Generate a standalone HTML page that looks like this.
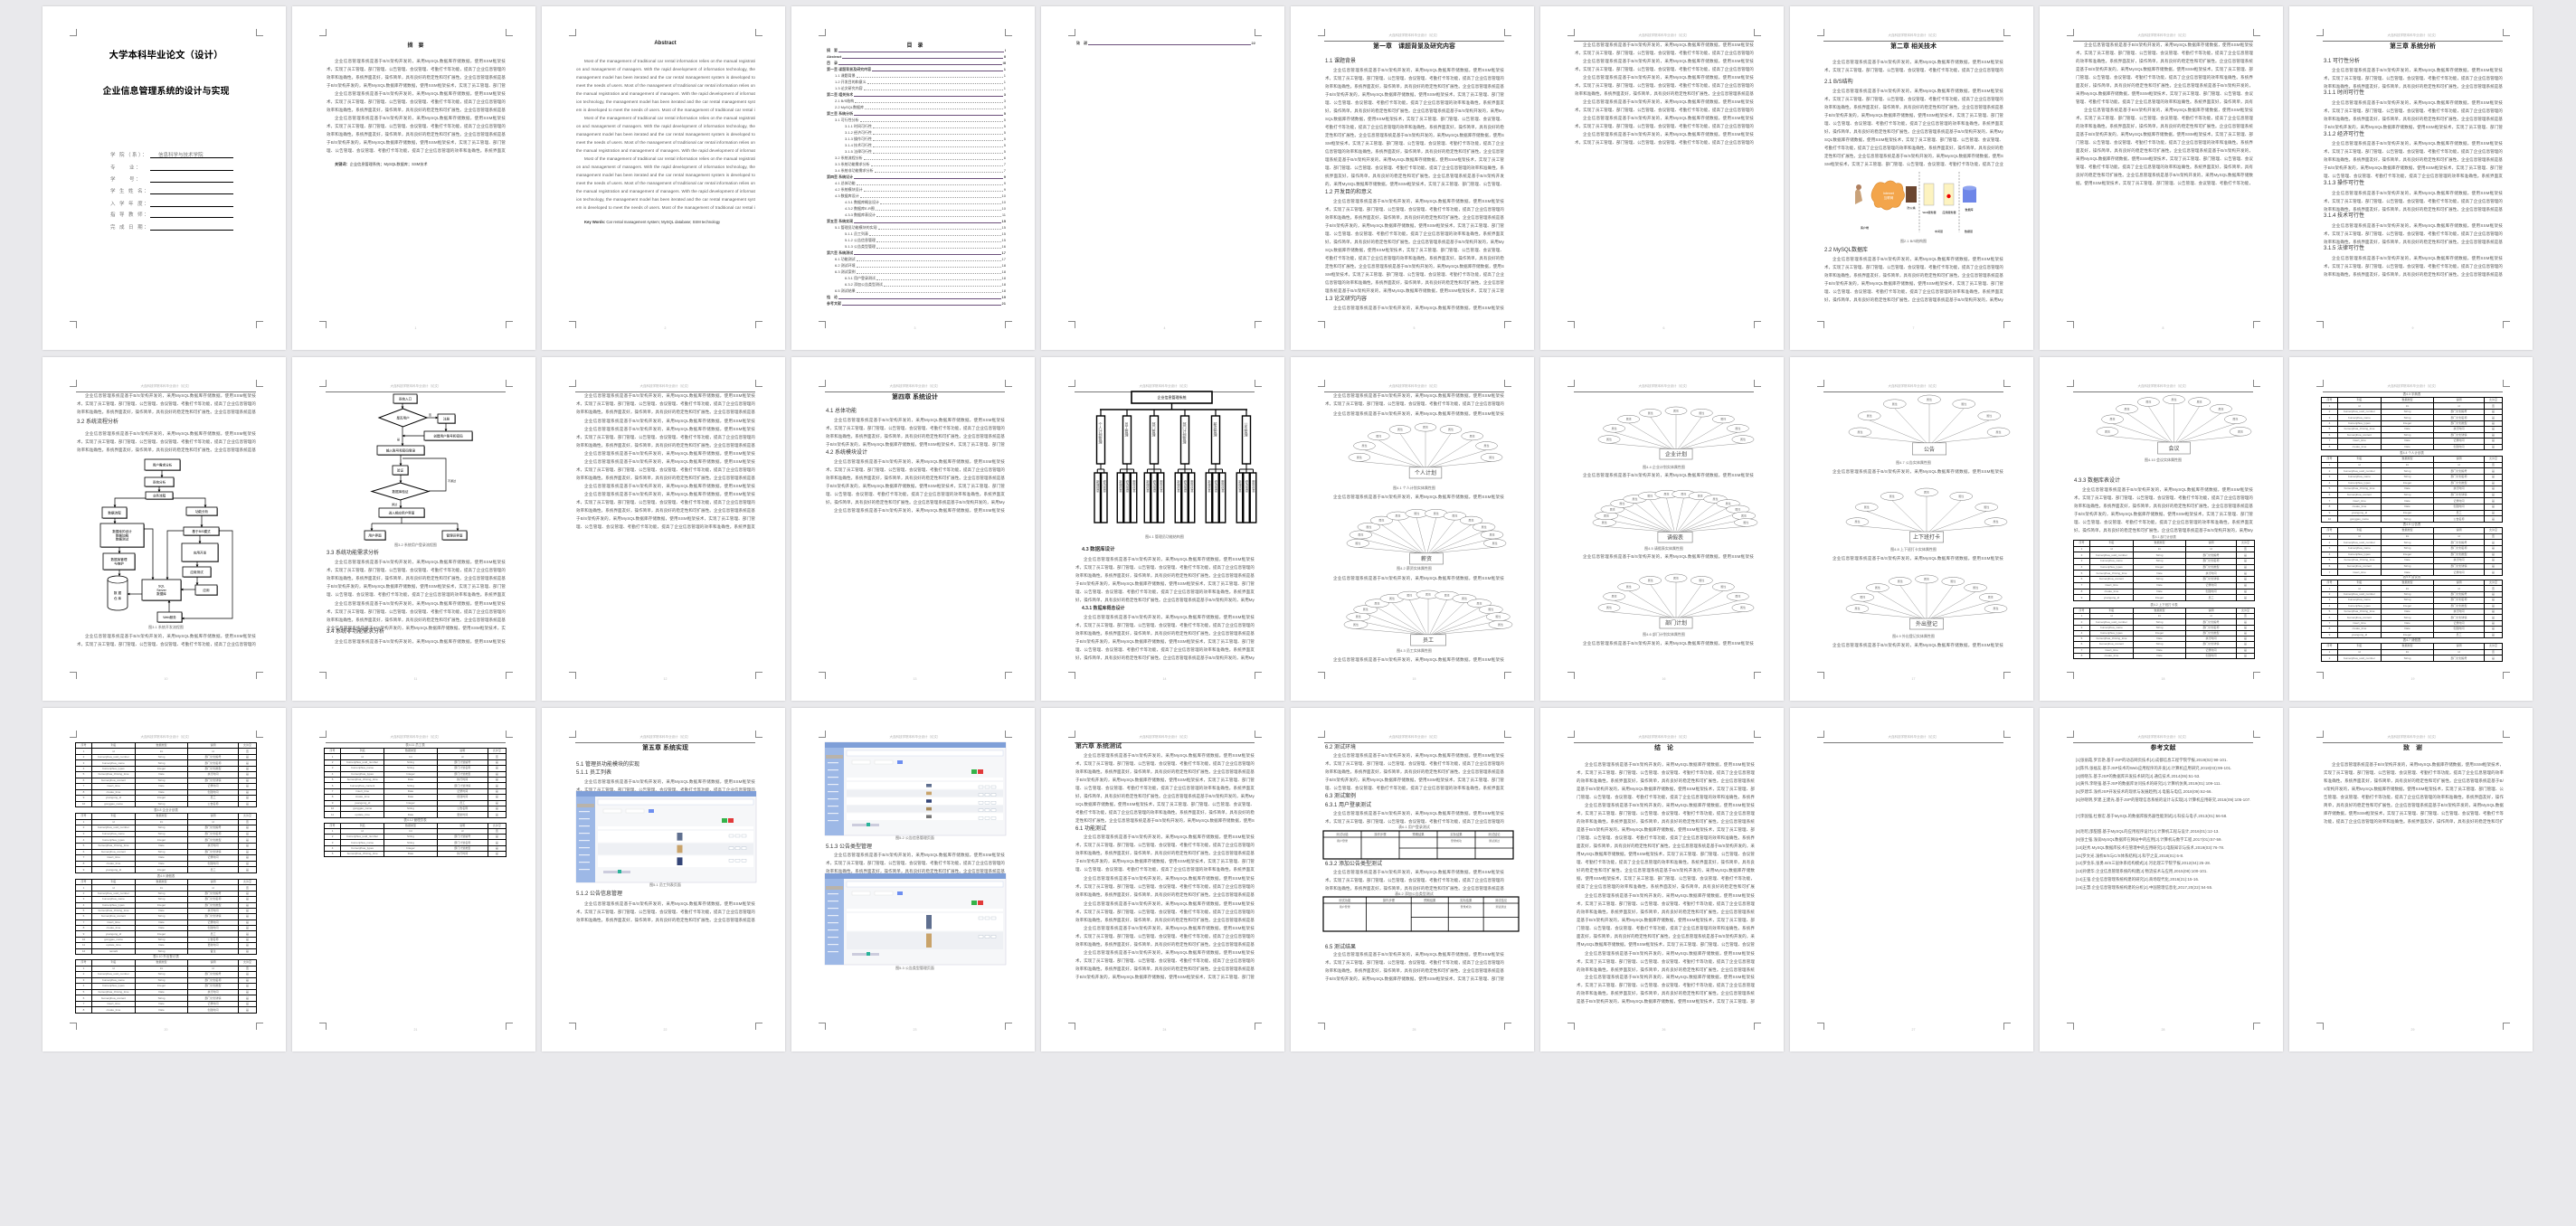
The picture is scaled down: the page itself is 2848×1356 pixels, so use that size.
<!DOCTYPE html>
<html><head><meta charset="utf-8">
<style>
html,body{margin:0;padding:0}
body{width:2848px;height:1356px;background:#e9e9ec;position:relative;overflow:hidden;font-family:"Liberation Sans","Noto Sans CJK SC",sans-serif}
.pg{position:absolute;width:269px;height:380px;background:#fff;box-shadow:0 0 2px rgba(0,0,0,.18);overflow:hidden}
.cm{position:absolute;width:7px;height:7px;border:0 solid #888}
.t{position:absolute;font-size:4.5px;line-height:9px;color:#555;text-align:justify;overflow:hidden;word-break:break-all;letter-spacing:.1px}
.h{position:absolute;font-size:6px;line-height:8px;color:#333;white-space:nowrap}
.c{position:absolute;left:37px;width:199px;text-align:center;font-weight:bold;color:#222;white-space:nowrap}
.hd{position:absolute;left:37px;width:199px;top:30px;text-align:center;font-size:3.5px;color:#aaa}
.hl{position:absolute;left:37px;width:199px;top:38px;height:1px;background:#777}
.pn{position:absolute;left:37px;width:199px;top:354px;text-align:center;font-size:3.5px;color:#bbb}
.cap{position:absolute;left:37px;width:199px;text-align:center;font-size:4px;color:#666;white-space:nowrap}
.g{position:absolute;left:0;top:0}
table.tb{position:absolute;border-collapse:collapse;border:1.4px solid #000;table-layout:fixed}
table.tb td{border:.8px solid #000;padding:0;font-size:3px;line-height:3px;color:#666;text-align:center;overflow:hidden;white-space:nowrap}
.toc{position:absolute;display:flex;align-items:flex-end;font-size:4px;line-height:6px;color:#444;white-space:nowrap}
.toc i{flex:1;margin:0 1px 1px 1px;border-bottom:.6px dotted #999;font-style:normal}
.toc.b{font-weight:bold}
.toc.b i{border-bottom:1px solid #6b4f7a}
.cv{position:absolute;font-size:5.5px;color:#777;letter-spacing:1.5px;white-space:nowrap}
.ul{position:absolute;left:119px;width:92px;height:1px;background:#000}
</style></head>
<body>
<div class="pg" style="left:47px;top:7px"></div><div class="pg" style="left:323px;top:7px"></div><div class="pg" style="left:599px;top:7px"></div><div class="pg" style="left:875px;top:7px"></div><div class="pg" style="left:1151px;top:7px"></div><div class="pg" style="left:1427px;top:7px"></div><div class="pg" style="left:1703px;top:7px"></div><div class="pg" style="left:1979px;top:7px"></div><div class="pg" style="left:2255px;top:7px"></div><div class="pg" style="left:2531px;top:7px"></div>
<div class="pg" style="left:47px;top:395px"></div><div class="pg" style="left:323px;top:395px"></div><div class="pg" style="left:599px;top:395px"></div><div class="pg" style="left:875px;top:395px"></div><div class="pg" style="left:1151px;top:395px"></div><div class="pg" style="left:1427px;top:395px"></div><div class="pg" style="left:1703px;top:395px"></div><div class="pg" style="left:1979px;top:395px"></div><div class="pg" style="left:2255px;top:395px"></div><div class="pg" style="left:2531px;top:395px"></div>
<div class="pg" style="left:47px;top:783px"></div><div class="pg" style="left:323px;top:783px"></div><div class="pg" style="left:599px;top:783px"></div><div class="pg" style="left:875px;top:783px"></div><div class="pg" style="left:1151px;top:783px"></div><div class="pg" style="left:1427px;top:783px"></div><div class="pg" style="left:1703px;top:783px"></div><div class="pg" style="left:1979px;top:783px"></div><div class="pg" style="left:2255px;top:783px"></div><div class="pg" style="left:2531px;top:783px"></div>
<script>
const F="企业信息管理系统是基于B/S架构开发的，采用MySQL数据库存储数据，使用SSM框架技术，实现了员工管理、部门管理、公告管理、会议管理、考勤打卡等功能，提高了企业信息管理的效率和准确性。系统界面友好，操作简单，具有良好的稳定性和可扩展性。";
const E="Most of the management of traditional car rental information relies on the manual registration and management of managers. With the rapid development of information technology, the management model has been iterated and the car rental management system is developed to meet the needs of users. ";
const P=[...document.querySelectorAll('.pg')];
function add(i,h){P[i].insertAdjacentHTML('beforeend',h);}
function T(i,top,lines,l=38,w=198,ind=9,txt=F){const n=Math.ceil(lines*w/4/txt.length)+1;add(i,`<div class="t" style="top:${top}px;left:${l}px;width:${w}px;height:${lines*9}px;text-indent:${ind}px">${txt.repeat(n)}</div>`);}
function H(i,top,txt,l=38,s=6,b=''){add(i,`<div class="h" style="top:${top}px;left:${l}px;font-size:${s}px;${b?'font-weight:bold':''}">${txt}</div>`);}
function C(i,top,txt,s=7){add(i,`<div class="c" style="top:${top}px;font-size:${s}px">${txt}</div>`);}
function CAP(i,top,txt){add(i,`<div class="cap" style="top:${top}px">${txt}</div>`);}
function S(i,inner){add(i,`<svg class="g" width="269" height="380" font-family="Liberation Sans,Noto Sans CJK SC,sans-serif"><defs><marker id="a${i}" markerWidth="4" markerHeight="4" refX="3.5" refY="2" orient="auto"><path d="M0,0 L4,2 L0,4z" fill="#000"/></marker></defs>${inner}</svg>`);}
// marks, headers, numbers
P.forEach((p,i)=>{
 add(i,`<div class="cm" style="left:30px;top:25px;border-right-width:1px;border-bottom-width:1px"></div><div class="cm" style="left:236px;top:25px;border-left-width:1px;border-bottom-width:1px"></div><div class="cm" style="left:30px;top:348px;border-right-width:1px;border-top-width:1px"></div><div class="cm" style="left:236px;top:348px;border-left-width:1px;border-top-width:1px"></div>`);
 if(i>=5){add(i,`<div class="hd">大连科技学院本科毕业设计（论文）</div><div class="hl"></div>`);}
 if(i>=1){add(i,`<div class="pn">${i}</div>`);}
});
// cover
add(0,`<div class="c" style="top:46px;font-size:10.5px;color:#000">大学本科毕业论文（设计）</div><div class="c" style="top:85px;font-size:10px;color:#000">企业信息管理系统的设计与实现</div>`);
const lab=["学 院（系）：","专　　业：","学　　号：","学 生 姓 名：","入 学 年 度：","指 导 教 师：","完 成 日 期："];
const ly=[166,180,193,206,220,232,246];
lab.forEach((t,k)=>{add(0,`<div class="cv" style="left:75px;top:${ly[k]-6}px">${t}</div><div class="ul" style="top:${ly[k]+1}px"></div>`);});
add(0,`<div class="cv" style="left:128px;top:160px;letter-spacing:0">信息科学与技术学院</div>`);
// abstract
C(1,38,"摘　要",6);T(1,56,4);T(1,92,3);T(1,119,5);H(1,171,"<b>关键词：</b>企业信息管理系统；MySQL数据库；SSM技术",47,4.2);
C(2,38,"Abstract",6);T(2,56,7,38,198,9,E);T(2,119,5,38,198,9,E);T(2,164,7,38,198,9,E);H(2,235,"<b>Key Words:</b> Car rental management system; MySQL database; SSM technology",47,4.2);
// TOC
C(3,38,"目　录",6);
const toc=[["摘　要","I",0],["Abstract","II",0],["目　录","III",0],["第一章 课题背景及研究内容","1",0],["1.1 课题背景","1",1],["1.2 开发目的和意义","1",1],["1.3 论文研究内容","1",1],["第二章 相关技术","3",0],["2.1 B/S结构","3",1],["2.2 MySQL数据库","3",1],["第三章 系统分析","5",0],["3.1 可行性分析","5",1],["3.1.1 时间可行性","5",2],["3.1.2 经济可行性","5",2],["3.1.3 操作可行性","5",2],["3.1.4 技术可行性","5",2],["3.1.5 法律可行性","5",2],["3.2 系统流程分析","6",1],["3.3 系统功能需求分析","7",1],["3.4 系统非功能需求分析","7",1],["第四章 系统设计","9",0],["4.1 总体功能","9",1],["4.2 系统模块设计","9",1],["4.3 数据库设计","10",1],["4.3.1 数据库概念设计","10",2],["4.3.2 数据库E-R图","10",2],["4.3.3 数据库表设计","11",2],["第五章 系统实现","15",0],["5.1 管理员功能模块的实现","15",1],["5.1.1 员工列表","15",2],["5.1.2 公告信息管理","15",2],["5.1.3 公告类型管理","16",2],["第六章 系统测试","17",0],["6.1 功能测试","17",1],["6.2 测试环境","18",1],["6.3 测试案例","18",1],["6.3.1 用户登录测试","18",2],["6.3.2 添加公告类型测试","18",2],["6.5 测试结果","18",1],["结　论","19",0],["参考文献","21",0]];
toc.forEach((e,k)=>{const l=[39,48,59][e[2]];add(3,`<div class="toc ${e[2]?'':'b'}" style="top:${46+7*k}px;left:${l}px;width:${237-l}px"><span>${e[0]}</span><i></i><span>${e[1]}</span></div>`);});
add(4,`<div class="toc b" style="top:38px;left:39px;width:198px"><span>致　谢</span><i></i><span>22</span></div>`);
// ch1
C(5,39,"第一章　课题背景及研究内容",7);H(5,57,"1.1 课题背景");T(5,66,15);H(5,202,"1.2 开发目的和意义");T(5,211,12);H(5,320,"1.3 论文研究内容");T(5,329,1);
T(6,38,2);T(6,56,2);T(6,74,3);T(6,101,2);T(6,119,2);T(6,137,2);
// ch2
C(7,39,"第二章 相关技术",7);T(7,57,2);H(7,80,"2.1 B/S结构");T(7,89,10);
S(7,`<path d="M72,205 q3,-6 6,0 l2,10 l-8,4z" fill="#c9a27a"/><circle cx="76" cy="200" r="3" fill="#b08060"/>
<path d="M93,200 q4,-8 12,-4 q6,-6 12,0 q8,-2 8,8 q4,6 -2,12 q-2,8 -10,6 q-6,6 -12,0 q-8,2 -8,-6 q-6,-6 0,-16z" fill="#f3a54b" stroke="#d98a30" stroke-width=".6"/>
<text x="109" y="208" font-size="3.5" text-anchor="middle" fill="#fff">Internet</text><text x="109" y="213" font-size="3.5" text-anchor="middle" fill="#fff">互联网</text>
<rect x="128" y="199" width="12" height="18" fill="#6b4630"/><line x1="143" y1="183" x2="143" y2="250" stroke="#555" stroke-width=".5" stroke-dasharray="2,1.5"/>
<rect x="148" y="196" width="11" height="24" fill="#fdf3c0" stroke="#aaa" stroke-width=".5"/><rect x="170" y="196" width="11" height="24" fill="#fdf3c0" stroke="#aaa" stroke-width=".5"/><circle cx="175.5" cy="210" r="2.2" fill="#e00"/>
<line x1="187" y1="183" x2="187" y2="250" stroke="#555" stroke-width=".5" stroke-dasharray="2,1.5"/>
<rect x="191" y="201" width="15" height="16" fill="#6e86e8"/><ellipse cx="198.5" cy="201" rx="7.5" ry="2.5" fill="#8fa4f0"/>
<text x="134" y="224" font-size="3" text-anchor="middle">防火墙</text><text x="154" y="229" font-size="3" text-anchor="middle">Web服务器</text><text x="176" y="229" font-size="3" text-anchor="middle">应用服务器</text><text x="198" y="226" font-size="3" text-anchor="middle">数据库</text>
<text x="78" y="246" font-size="3">客户端</text><text x="160" y="250" font-size="3">中间层</text><text x="193" y="250" font-size="3">数据层</text>`);
CAP(7,257,"图2.1 B/S结构图");H(7,266,"2.2 MySQL数据库");T(7,275,6);
T(8,38,8,40,196);T(8,110,10,40,196);
// ch3
C(9,39,"第三章 系统分析",7);H(9,57,"3.1 可行性分析");T(9,66,3);H(9,92,"3.1.1 时间可行性");T(9,102,4);H(9,138,"3.1.2 经济可行性");T(9,147,5);H(9,192,"3.1.3 操作可行性");T(9,202,3);H(9,228,"3.1.4 技术可行性");T(9,238,3);H(9,264,"3.1.5 法律可行性");T(9,274,3);
// flowchart helpers
function B(x1,y1,x2,y2,t,fs=3.6){const lines=t.split(' ');let s=`<rect x="${x1+1}" y="${y1+1}" width="${x2-x1}" height="${y2-y1}" fill="#888"/><rect x="${x1}" y="${y1}" width="${x2-x1}" height="${y2-y1}" fill="#fff" stroke="#000" stroke-width=".8"/>`;const cy=(y1+y2)/2-(lines.length-1)*fs*0.6;lines.forEach((l,k)=>{s+=`<text x="${(x1+x2)/2}" y="${cy+k*fs*1.2+fs*0.35}" font-size="${fs}" text-anchor="middle">${l}</text>`;});return s;}
function L(i,pts,arrow=1){return `<polyline points="${pts}" fill="none" stroke="#000" stroke-width=".7" ${arrow?`marker-end="url(#a${i})"`:''}/>`;}
function D(x1,y1,x2,y2,t){const cx=(x1+x2)/2,cy=(y1+y2)/2;return `<polygon points="${cx},${y1} ${x2},${cy} ${cx},${y2} ${x1},${cy}" fill="#fff" stroke="#000" stroke-width="1"/><text x="${cx}" y="${cy+1.3}" font-size="3.6" text-anchor="middle">${t}</text>`;}
T(10,38,3);H(10,68,"3.2 系统流程分析");T(10,80,3);
S(10,B(113,113,152,125,"用户需求分析")+B(113,133,145,143,"系统分析")+B(114,149,144,157,"业务流程")+B(66,166,93,178,"数据流程")+B(159,166,193,175,"功能分析")+B(64,184,112,210,"数据库的设计 数据加载 数据测试")+B(156,188,195,197,"基于B/S模式")+B(67,217,102,235,"数据库管理 与维护")+B(154,206,194,226,"应用开发")+B(155,232,186,243,"应用测试")+
`<path d="M72,246 a11,4 0 0,1 22,0 v30 a11,4 0 0,1 -22,0z" fill="#fff" stroke="#000" stroke-width=".8"/><path d="M72,246 a11,4 0 0,0 22,0" fill="none" stroke="#000" stroke-width=".6"/><text x="83" y="262" font-size="3.6" text-anchor="middle">数 据</text><text x="83" y="268" font-size="3.6" text-anchor="middle">仓 库</text>`+
B(110,246,153,269,"SQL Server 数据库")+B(169,252,193,263,"应用")+B(127,282,154,293,"Web服务")+
L(10,"132,125 132,133")+L(10,"129,143 129,149")+L(10,"114,156 80,156 80,166")+L(10,"144,156 180,156 180,166")+L(10,"80,178 80,184")+L(10,"176,175 176,188")+L(10,"85,210 85,217")+L(10,"85,235 85,242")+L(10,"174,197 174,206")+L(10,"171,226 171,232")+L(10,"171,243 171,252")+L(10,"169,257 153,257")+L(10,"110,262 94,262")+L(10,"112,190 122,190 122,246")+L(10,"156,192 138,192 138,246")+L(10,"140,282 140,269")+L(10,"195,192 210,192 210,289 154,289"));
CAP(10,296,"图3.1 系统开发流程图");T(10,304,2);
S(11,B(112,41,138,51,"系统入口")+D(96,57,149,77,"是否用户")+B(161,63,180,73,"注册")+B(146,82,199,92,"创建用户账号和密码")+B(94,98,146,108,"输入账号和密码登录")+B(111,120,128,130,"验证")+D(88,139,151,158,"数据库验证")+B(96,167,146,177,"进入相应用户界面")+B(80,192,103,202,"用户界面")+B(166,192,193,202,"管理员界面")+
L(11,"122,51 122,57")+L(11,"149,67 161,67")+L(11,"170,73 170,82")+L(11,"146,87 122,87")+L(11,"122,77 122,98")+L(11,"120,108 120,120")+L(11,"120,130 120,139")+L(11,"151,148 170,148 170,112 122,112",0)+L(11,"120,158 120,167")+L(11,"121,177 121,184",0)+L(11,"88,184 183,184",0)+L(11,"88,184 88,192")+L(11,"183,184 183,192")+
`<text x="151" y="65" font-size="3">否</text><text x="116" y="92" font-size="3">是</text><text x="172" y="138" font-size="3">不通过</text><text x="110" y="164" font-size="3">通过</text>`);
CAP(11,205,"图3.2 系统用户登录流程图");H(11,213,"3.3 系统功能需求分析");T(11,222,5);T(11,268,3);T(11,295,1,38,198,0);H(11,300,"3.4 系统非功能需求分析");T(11,310,1);
T(12,38,3);T(12,66,1);T(12,75,3);T(12,102,1);T(12,111,3);T(12,138,1);T(12,147,5);
C(13,39,"第四章 系统设计",7);H(13,56,"4.1 总体功能");T(13,65,4);H(13,102,"4.2 系统模块设计");T(13,111,6);T(13,165,1);
// tree
(function(){let s=`<rect x="100" y="38" width="89" height="13" fill="#fff" stroke="#000" stroke-width="1.6"/><text x="144.5" y="46" font-size="4" text-anchor="middle">企业信息管理系统</text><line x1="144.5" y1="51" x2="144.5" y2="58" stroke="#000" stroke-width="1.3"/><line x1="65" y1="58" x2="228" y2="58" stroke="#000" stroke-width="1.6"/>`;
const cx=[66,95,125,159,193,227],nm=["个人计划管理","员工管理","部门管理","部门计划管理","薪资管理","公告管理"],lv=[2,3,3,3,3,3];
cx.forEach((x,k)=>{s+=`<line x1="${x}" y1="58" x2="${x}" y2="65" stroke="#000" stroke-width="1.2"/><rect x="${x-4.5}" y="65" width="9" height="53" fill="#fff" stroke="#000" stroke-width="1.4"/><text x="${x}" y="72" font-size="4" writing-mode="tb" fill="#444">${nm[k]}</text><line x1="${x}" y1="118" x2="${x}" y2="124" stroke="#000" stroke-width="1"/>`;
 const n=lv[k],w=7.5,l0=x-n*w/2;s+=`<line x1="${l0+w/2}" y1="124" x2="${l0+w*(n-.5)}" y2="124" stroke="#000" stroke-width="1"/>`;
 for(let j=0;j<n;j++){const lx=l0+j*w;s+=`<line x1="${lx+w/2}" y1="124" x2="${lx+w/2}" y2="128" stroke="#000" stroke-width="1"/><rect x="${lx+.5}" y="128" width="${w-1}" height="55" fill="#fff" stroke="#000" stroke-width="1.4"/><text x="${lx+w/2}" y="136" font-size="3.4" writing-mode="tb" fill="#555">${["新增","修改","删除"][j]}信息</text>`;}});
S(14,s);})();
CAP(14,196,"图4.1 管理员功能结构图");H(14,209,"4.3 数据库设计",45,5.5,1);T(14,219,6);H(14,274,"4.3.1 数据库概念设计",45,5,1);T(14,283,6);
// star
function star(l,t,w,h,label,n){const cx=l+w/2,rw=w*0.21,rh=h*0.2,ry0=t+h-rh,rx=w*0.07,ery=h*0.075,by=t+h*0.62,A=w/2-rx,Bv=by-t-ery;let s='';
 for(let k=0;k<n;k++){const th=Math.PI*k/(n-1),ex=cx-A*Math.cos(th),ey=by-Bv*Math.sin(th);s+=`<line x1="${ex}" y1="${ey+ery}" x2="${cx+(ex-cx)*0.08}" y2="${ry0}" stroke="#999" stroke-width=".5"/>`;}
 for(let k=0;k<n;k++){const th=Math.PI*k/(n-1),ex=cx-A*Math.cos(th),ey=by-Bv*Math.sin(th);s+=`<ellipse cx="${ex}" cy="${ey}" rx="${rx}" ry="${ery}" fill="#fff" stroke="#777" stroke-width=".5"/><text x="${ex}" y="${ey+1}" font-size="${Math.min(3,ery*1.1)}" text-anchor="middle" fill="#777">属性</text>`;}
 s+=`<rect x="${cx-rw/2}" y="${ry0}" width="${rw}" height="${rh}" fill="#fff" stroke="#777" stroke-width=".6"/><text x="${cx}" y="${ry0+rh*0.68}" font-size="${Math.min(rh*0.55,6)}" text-anchor="middle" fill="#444">${label}</text>`;return s;}
T(15,38,2);T(15,58,1);
S(15,star(64,73,170,61,"个人计划",9)+star(62,168,176,61,"薪资",12)+star(59,258,186,61,"员工",13));
CAP(15,142,"图4.1 个人计划实体属性图");T(15,150,1);CAP(15,231,"图4.2 薪资实体属性图");T(15,240,1);CAP(15,322,"图4.3 员工实体属性图");T(15,330,1);
S(16,star(64,55,172,58,"企业计划",9)+star(58,147,182,58,"请假表",14)+star(64,240,172,60,"部门计划",9));
CAP(16,119,"图4.4 企业计划实体属性图");T(16,126,1);CAP(16,209,"图4.5 请假表实体属性图");T(16,216,1);CAP(16,304,"图4.6 部门计划实体属性图");T(16,312,1);
S(17,star(65,42,178,66,"公告",7)+star(62,145,178,60,"上下班打卡",7)+star(62,241,178,60,"外出登记",9));
CAP(17,114,"图4.7 公告实体属性图");T(17,122,1);CAP(17,210,"图4.8 上下班打卡实体属性图");T(17,218,1);CAP(17,306,"图4.9 外出登记实体属性图");T(17,314,1);
// tables
const rowsA=[["1","id","Int","id","否"],["2","bumenjihua_uuid_number","String","部门计划编号","是"],["3","bumenjihua_name","String","部门计划名称","是"],["4","bumenjihua_types","Integer","部门计划类型","是"],["5","bumenjihua_zhixing_time","Date","执行时间","是"],["6","bumenjihua_content","String","部门计划详情","是"],["7","insert_time","Date","记录时间","是"],["8","create_time","Date","创建时间","是"],["9","yuangong_id","Integer","员工","是"],["10","gonggao_name","String","公告名称","是"],["11","update_time","Date","更新时间","是"],["12","remark","String","备注","是"]];
function TB(i,top,bot,n,title,l=36,w=200){let r=`<tr><td>序号</td><td>列名</td><td>数据类型</td><td>说明</td><td>允许空</td></tr>`;for(let k=0;k<n-1;k++){r+=`<tr><td>${rowsA[k%12].join('</td><td>')}</td></tr>`;}const rh=(bot-top)/n;
 if(title)add(i,`<div class="cap" style="top:${top-5}px;left:${l}px;width:${w}px;font-size:3.5px">${title}</div>`);
 add(i,`<table class="tb" style="top:${top}px;left:${l}px;width:${w}px;height:${bot-top}px"><colgroup><col style="width:9%"><col style="width:24%"><col style="width:29%"><col style="width:28%"><col style="width:10%"></colgroup>${r.replace(/<tr>/g,`<tr style="height:${rh}px">`)}</table>`);}
S(18,star(63,42,171,65,"会议",9));CAP(18,111,"图4.10 会议实体属性图");H(18,133,"4.3.3 数据库表设计");T(18,142,6);
TB(18,202,269,10,"表4.1 部门计划表",37,201);TB(18,277,333,9,"表4.2 上下班打卡表",37,201);
TB(19,44,102,9,"表4.3 字典表",35,201);TB(19,109,182,11,"表4.4 个人计划表",35,201);TB(19,188,241,8,"表4.5 公告表",35,201);TB(19,246,310,10,"表4.6 会议表",35,201);TB(19,316,336,3,"表4.7 请假表",35,201);
TB(20,38,109,11,"",36,201);TB(20,116,182,10,"表4.8 企业计划表",36,201);TB(20,189,272,13,"表4.9 请假表",36,201);TB(20,278,337,9,"表4.10 外出登记表",36,201);
TB(21,44,121,12,"表4.11 员工表",35,202);TB(21,127,164,6,"表4.12 管理员表",35,202);
// screenshots
function SH(l,t,w,h,pics){let s=`<rect x="${l}" y="${t}" width="${w}" height="${h}" fill="#f6f7f9" stroke="#ccd" stroke-width=".5"/><rect x="${l}" y="${t}" width="${w}" height="6" fill="#7f9fd8"/><rect x="${l}" y="${t+6}" width="21" height="${h-6}" fill="#9db8e6"/><rect x="${l+1}" y="${t+14}" width="19" height="4" fill="#b9b3aa"/>`;
 for(let k=0;k<9;k++)s+=`<rect x="${l+3}" y="${t+22+k*8}" width="12" height="1.2" fill="#e8eef9"/>`;
 s+=`<rect x="${l+24}" y="${t+9}" width="${w-27}" height="6" fill="#fff" stroke="#cfd8ee" stroke-width=".5"/><rect x="${l+30}" y="${t+20}" width="20" height="4" fill="#fff" stroke="#ddd" stroke-width=".4"/><rect x="${l+55}" y="${t+20}" width="20" height="4" fill="#fff" stroke="#ddd" stroke-width=".4"/><rect x="${l+80}" y="${t+20}" width="6" height="4" fill="#6d8ef0"/><rect x="${l+w-38}" y="${t+30}" width="6" height="5" fill="#35b34a"/><rect x="${l+w-31}" y="${t+30}" width="6" height="5" fill="#e23a3a"/><rect x="${l+24}" y="${t+39}" width="${w-27}" height="3" fill="#fff"/>`;
 for(let k=0;k<pics;k++){const y=t+44+k*(h-60)/pics;s+=`<rect x="${l+24}" y="${y}" width="${w-27}" height="${(h-60)/pics-1}" fill="${k%2?'#eef0f4':'#fff'}"/><rect x="${l+w/2+12}" y="${y+2}" width="6" height="${(h-60)/pics-5}" fill="${['#5f6f8f','#c9a36a','#334477','#a88a5a','#777'][k%5]}"/><rect x="${l+w-30}" y="${y+4}" width="5" height="3" fill="#fff" stroke="#9ab" stroke-width=".3"/><rect x="${l+w-23}" y="${y+4}" width="5" height="3" fill="#fff" stroke="#9ab" stroke-width=".3"/><rect x="${l+w-16}" y="${y+4}" width="5" height="3" fill="#fff" stroke="#9ab" stroke-width=".3"/>`;}
 s+=`<rect x="${l+30}" y="${t+h-13}" width="30" height="3" fill="#ccd"/><rect x="${l+46}" y="${t+h-14}" width="4" height="4" fill="#2ab39a"/>`;return s;}
C(22,39,"第五章 系统实现",7);H(22,59,"5.1 管理员功能模块的实现");H(22,68,"5.1.1 员工列表");T(22,77,2);
S(22,SH(38,92,199,101,3));CAP(22,193,"图5.1 员工列表页面");H(22,202,"5.1.2 公告信息管理");T(22,212,3);
S(23,SH(37,38,200,103,5)+SH(37,183,200,101,2));CAP(23,141,"图5.2 公告信息管理页面");H(23,150,"5.1.3 公告类型管理");T(23,158,3);CAP(23,285,"图5.3 公告类型管理页面");
// ch6
H(24,39,"第六章 系统测试",38,7,1);T(24,48,9);H(24,130,"6.1 功能测试");T(24,138,5);T(24,184,3);T(24,212,3);T(24,239,3);T(24,266,4);
H(25,40,"6.2 测试环境");T(25,48,5);H(25,94,"6.3 测试案例");H(25,104,"6.3.1 用户登录测试");T(25,112,2);
CAP(25,129,"表6.1 用户登录测试");
function TT(x1,y1,x2,y2,c){const w=x2-x1;const cs=c.map(v=>x1+v*w);let s=`<rect x="${x1}" y="${y1}" width="${w}" height="${y2-y1}" fill="none" stroke="#000" stroke-width="1.2"/><line x1="${x1}" y1="${y1+7}" x2="${x2}" y2="${y1+7}" stroke="#000" stroke-width=".8"/>`;
 cs.forEach(x=>s+=`<line x1="${x}" y1="${y1}" x2="${x}" y2="${y2}" stroke="#000" stroke-width=".8"/>`);
 const my=(y1+7+y2)/2;s+=`<line x1="${cs[1]}" y1="${my}" x2="${x2}" y2="${my}" stroke="#000" stroke-width=".8"/>`;
 const hd=["测试功能","操作步骤","预期结果","实际结果","测试结论"],xs=[x1,...cs,x2];hd.forEach((t,k)=>s+=`<text x="${(xs[k]+xs[k+1])/2}" y="${y1+5}" font-size="3.3" text-anchor="middle" fill="#666">${t}</text>`);
 s+=`<text x="${(xs[0]+xs[1])/2}" y="${y1+12}" font-size="3" text-anchor="middle" fill="#666">用户登录</text><text x="${(xs[3]+xs[4])/2}" y="${y1+12}" font-size="3" text-anchor="middle" fill="#666">登录成功</text><text x="${(xs[4]+xs[5])/2}" y="${y1+12}" font-size="3" text-anchor="middle" fill="#666">测试通过</text>`;return s;}
S(25,TT(36,136,246,167,[.2,.4,.6,.8])+TT(36,209,252,247,[.22,.45,.64,.82]));
H(25,169,"6.3.2 添加公告类型测试");T(25,177,3);CAP(25,203,"表6.2 添加公告类型测试");H(25,261,"6.5 测试结果");T(25,268,4);
C(26,39,"结　论",7);T(26,58,5,40,197);T(26,103,11,40,197);T(26,203,7,40,197);T(26,267,3,40,197);T(26,293,4,40,197);
C(28,39,"参考文献",7);
const refs=["[1]张丽霞,罗云艳.基于JSP的动态网页技术[J].成都信息工程学院学报,2019(02):98-101.","[2]陈伟,张福友.基于JSP技术的Web应用程序的开发[J].计算机应用研究,2018(03):99-101.","[3]杨晓东.基于JSP的数据库开发技术研究[J].通信技术,2014(06):51-53.","[4]黄伟,李晓强.基于JSP的数据库访问技术的研究[J].计算机仿真,2019(01):109-111.","[5]罗建华.浅析JSP开发技术的现状与发展趋势[J].电脑与电信,2018(09):62-66.","[6]孙晓明,罗建,王建光.基于JSP的管理信息系统的设计与实现[J].计算机应用研究,2016(09):105-107.","[7]李国强,杜春宏.基于MySQL的数据库服务器性能测试[J].科技与电子,2013(01):56-58.","[8]毛昭,邵甜甜.基于MySQL的应用程序设计[J].计算机工程与设计,2016(01):12-13.","[9]张士强.浅谈MySQL数据库在网站中的应用[J].计算机与数字工程,2017(01):57-59.","[10]赵秀.MySQL数据库技术在管理中的应用研究[J].电脑知识与技术,2019(03):76-78.","[11]罗文光.浅析B/S与C/S体系结构[J].科学之友,2018(01):6-8.","[12]罗金乐,张勇.B/S三层体系结构模式[J].河北理工学院学报,2012(04):25-28.","[13]孙建华.企业信息管理系统的构建[J].物流技术与应用,2015(08):100-101.","[14]王强.企业信息管理系统构建的研究[J].商场现代化,2016(21):15-16.","[15]王慧.企业信息管理系统构建的分析[J].中国管理信息化,2017,20(22):54-55."];
let ry=54;refs.forEach((r,k)=>{const two=(k==5||k==6);add(28,`<div class="t" style="top:${ry}px;left:40px;width:199px;height:${two?18:9}px;line-height:8.8px;font-size:4.3px">${r}</div>`);ry+=two?17.6:8.8;});
C(29,39,"致　谢",7);T(29,58,8,38,199);
</script>
</body></html>
